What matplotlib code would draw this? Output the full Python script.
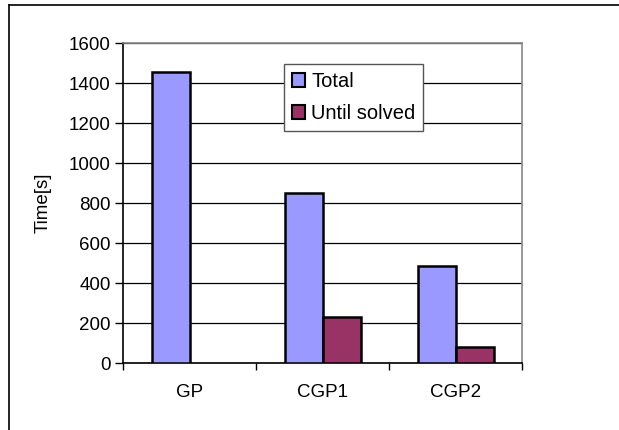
import numpy as np
import matplotlib.pyplot as plt
from matplotlib.lines import Line2D
from matplotlib.patches import Patch

categories = ["GP", "CGP1", "CGP2"]
total = [1455, 850, 485]
until_solved = [0, 230, 78]
yticks = [0, 200, 400, 600, 800, 1000, 1200, 1400, 1600]

plt.rcParams["font.family"] = ["Liberation Sans", "DejaVu Sans"]
FS = 13.5

W, H = 619, 430
fig = plt.figure(figsize=(W / 100, H / 100), dpi=100)
ax = fig.add_axes([123 / W, 1 - 363 / H, (522 - 123) / W, (363 - 43) / H])

x = np.arange(len(categories))
w = 1 / 3.5
ax.bar(x - w / 2, total, w, color="#9999FF", edgecolor="black", linewidth=1.8, zorder=3)
ax.bar(x[1:] + w / 2, until_solved[1:], w, color="#993366", edgecolor="black",
       linewidth=1.8, zorder=3)

ax.set_xlim(-0.5, 2.5)
ax.set_ylim(0, 1600)
ax.set_yticks(yticks)
ax.set_yticklabels([str(v) for v in yticks], fontsize=FS)
ax.yaxis.grid(True, color="black", linewidth=0.9, zorder=0)

ax.set_xticks([-0.5, 0.5, 1.5, 2.5])
ax.set_xticklabels([])
ax.set_xticks(x, minor=True)
ax.set_xticklabels(categories, minor=True, fontsize=FS)
ax.tick_params(axis="x", which="minor", length=0, pad=15)
ax.tick_params(axis="x", which="major", length=5, width=1, direction="out")
ax.tick_params(axis="y", length=6, width=1, direction="out", pad=3)

ax.spines["left"].set_color("black")
ax.spines["bottom"].set_color("black")
ax.spines["top"].set_color("#888888")
ax.spines["right"].set_color("#888888")
for s in ax.spines.values():
    s.set_linewidth(1.2)

ax.set_ylabel("Time[s]", fontsize=FS, labelpad=12)

handles = [Patch(facecolor="#9999FF", edgecolor="black", linewidth=1.5),
           Patch(facecolor="#993366", edgecolor="black", linewidth=1.5)]
leg = ax.legend(handles, ["Total", "Until solved"], fontsize=14.5,
                loc="upper left", bbox_to_anchor=((284 - 123) / 399, 1 - (64 - 43) / 320),
                fancybox=False, framealpha=1, edgecolor="#555555",
                handlelength=0.65, handleheight=0.65, handletextpad=0.3,
                borderpad=0.4, labelspacing=0.65, borderaxespad=0)
leg.get_frame().set_linewidth(1)

# outer chart border (only top and left visible)
fig.add_artist(Line2D([9 / W, 9 / W], [0, 1 - 5 / H], color="black", linewidth=1.2))
fig.add_artist(Line2D([9 / W, 1], [1 - 5 / H, 1 - 5 / H], color="black", linewidth=1.2))

fig.savefig("out.png", dpi=100)
